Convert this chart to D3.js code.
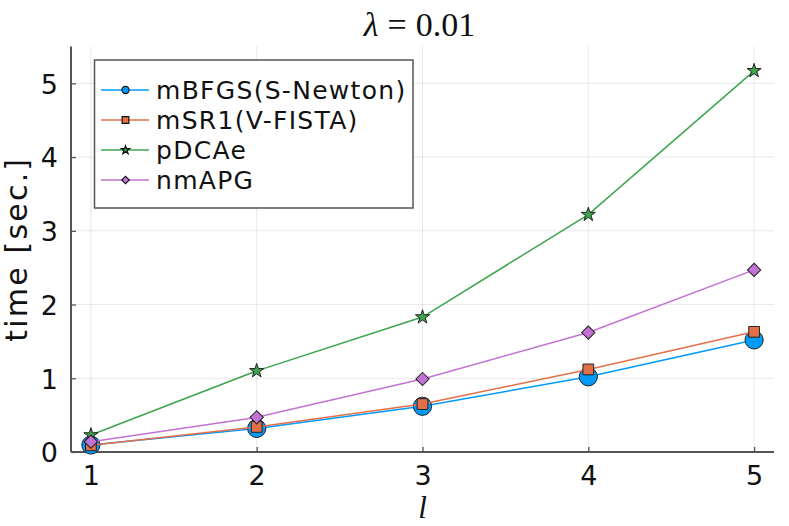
<!DOCTYPE html>
<html>
<head>
<meta charset="utf-8">
<script src="https://cdn.jsdelivr.net/npm/d3@7"></script>
<style>
  html, body { margin: 0; padding: 0; background: #fff; }
  svg { display: block; }
</style>
</head>
<body>
<script>
// ---- data ----
const xValues = [1, 2, 3, 4, 5];
const seriesNames = ["mBFGS(S-Newton)", "mSR1(V-FISTA)", "pDCAe", "nmAPG"];
const mbfgs = [0.095, 0.32, 0.62, 1.02, 1.52];
const msr1  = [0.09, 0.34, 0.65, 1.12, 1.63];
const pdcae = [0.23, 1.10, 1.83, 3.22, 5.17];
const nmapg = [0.14, 0.47, 0.99, 1.62, 2.47];
const xTicks = [1, 2, 3, 4, 5];
const yTicks = [0, 1, 2, 3, 4, 5];
const titleParts = ["λ", "=", "0.01"];
const xLabel = "l";
const yLabel = "time [sec.]";

const seriesValues = [mbfgs, msr1, pdcae, nmapg];
const colors = ["#009AFA", "#E36F47", "#3EA44E", "#C371D2"];
const shapes = ["circle", "square", "star", "diamond"];
const markerSizes = [260, 115, 62, 88];
const legendSizes = [40, 45, 22, 28];

const W = 789, H = 526;
const pLeft = 71, pRight = 774, pTop = 46.5, pBottom = 452;

const svg = d3.select("body").append("svg").attr("width", W).attr("height", H);

const x = d3.scaleLinear().domain([0.88, 5.12]).range([pLeft, pRight]);
const y = d3.scaleLinear().domain([0, 5.5]).range([pBottom, pTop]);

// grid
svg.append("g").selectAll("line").data(xTicks).join("line")
  .attr("x1", d => x(d)).attr("x2", d => x(d)).attr("y1", pTop).attr("y2", pBottom)
  .attr("stroke", "#000").attr("stroke-opacity", 0.09).attr("stroke-width", 1);
svg.append("g").selectAll("line").data(yTicks).join("line")
  .attr("x1", pLeft).attr("x2", pRight).attr("y1", d => y(d)).attr("y2", d => y(d))
  .attr("stroke", "#000").attr("stroke-opacity", 0.09).attr("stroke-width", 1);

// axes
const xAxis = d3.axisBottom(x).tickValues(xTicks).tickSizeInner(-5).tickSizeOuter(0).tickPadding(14).tickFormat(d3.format("d"));
const yAxis = d3.axisLeft(y).tickValues(yTicks).tickSizeInner(-5).tickSizeOuter(0).tickPadding(13).tickFormat(d3.format("d"));

const gx = svg.append("g").attr("transform", `translate(0,${pBottom})`).call(xAxis);
const gy = svg.append("g").attr("transform", `translate(${pLeft},0)`).call(yAxis);
[gx, gy].forEach(g => {
  g.select(".domain").attr("stroke", "#555").attr("stroke-width", 2);
  g.selectAll(".tick line").attr("stroke", "#555").attr("stroke-width", 1.3);
  g.selectAll(".tick text").attr("fill", "#111")
    .style("font-family", "'DejaVu Sans', sans-serif").style("font-size", "27px");
});
gx.selectAll(".tick text").attr("dy", "0.71em");
gy.selectAll(".tick text").attr("dy", "0.36em");
gx.select(".domain").attr("d", `M${pLeft},0H${pRight}`);
gy.select(".domain").attr("d", `M0,${pBottom}V${pTop}`);

function symbolPath(shape, size) {
  const type = shape === "circle" ? d3.symbolCircle
    : shape === "square" ? d3.symbolSquare
    : shape === "star" ? d3.symbolStar : d3.symbolSquare;
  return d3.symbol().type(type).size(size)();
}

// series
const line = d3.line().x((d, i) => x(xValues[i])).y(d => y(d));
seriesValues.forEach((vals, si) => {
  const g = svg.append("g");
  g.append("path").attr("d", line(vals)).attr("fill", "none")
    .attr("stroke", colors[si]).attr("stroke-width", 1.5);
  g.selectAll("path.m").data(vals).join("path").attr("class", "m")
    .attr("d", symbolPath(shapes[si], markerSizes[si]))
    .attr("transform", (d, i) => `translate(${x(xValues[i])},${y(d)})` + (shapes[si] === "diamond" ? " rotate(45)" : ""))
    .attr("fill", colors[si]).attr("stroke", "#222").attr("stroke-width", 1);
});

// legend
const lg = svg.append("g");
lg.append("rect").attr("x", 94.5).attr("y", 60).attr("width", 318.5).attr("height", 148)
  .attr("fill", "#fff").attr("stroke", "#555").attr("stroke-width", 1.5);
seriesNames.forEach((name, i) => {
  const cy = 90 + i * 30;
  lg.append("line").attr("x1", 101).attr("x2", 149).attr("y1", cy).attr("y2", cy)
    .attr("stroke", colors[i]).attr("stroke-width", 1.5);
  lg.append("path").attr("d", symbolPath(shapes[i], legendSizes[i]))
    .attr("transform", `translate(125.5,${cy})` + (shapes[i] === "diamond" ? " rotate(45)" : ""))
    .attr("fill", colors[i]).attr("stroke", "#111").attr("stroke-width", 1.2);
  lg.append("text").attr("x", 156).attr("y", cy + 9).text(name)
    .attr("fill", "#111")
    .style("font-family", "'DejaVu Sans', sans-serif").style("font-size", "25px")
    .style("letter-spacing", "1.3px");
});

// title
svg.append("text").attr("x", (pLeft + pRight) / 2 - 3).attr("y", 35.5).attr("text-anchor", "middle")
  .style("font-family", "'Liberation Serif', 'DejaVu Serif', serif").style("font-size", "34px")
  .attr("fill", "#111")
  .call(t => {
    t.append("tspan").style("font-style", "italic").text(titleParts[0]);
    t.append("tspan").attr("dx", 9).text(titleParts[1]);
    t.append("tspan").attr("dx", 9).text(titleParts[2]);
  });

// x label
svg.append("text").attr("x", (pLeft + pRight) / 2).attr("y", 518).attr("text-anchor", "middle")
  .style("font-family", "'Liberation Serif', 'DejaVu Serif', serif").style("font-style", "italic")
  .style("font-size", "31px").attr("fill", "#111").text(xLabel);

// y label
svg.append("text").attr("transform", `translate(27,${(pTop + pBottom) / 2}) rotate(-90)`)
  .attr("text-anchor", "middle")
  .style("font-family", "'DejaVu Sans', sans-serif").style("font-size", "30px")
  .style("letter-spacing", "2.2px")
  .attr("fill", "#111").text(yLabel);
</script>
</body>
</html>
